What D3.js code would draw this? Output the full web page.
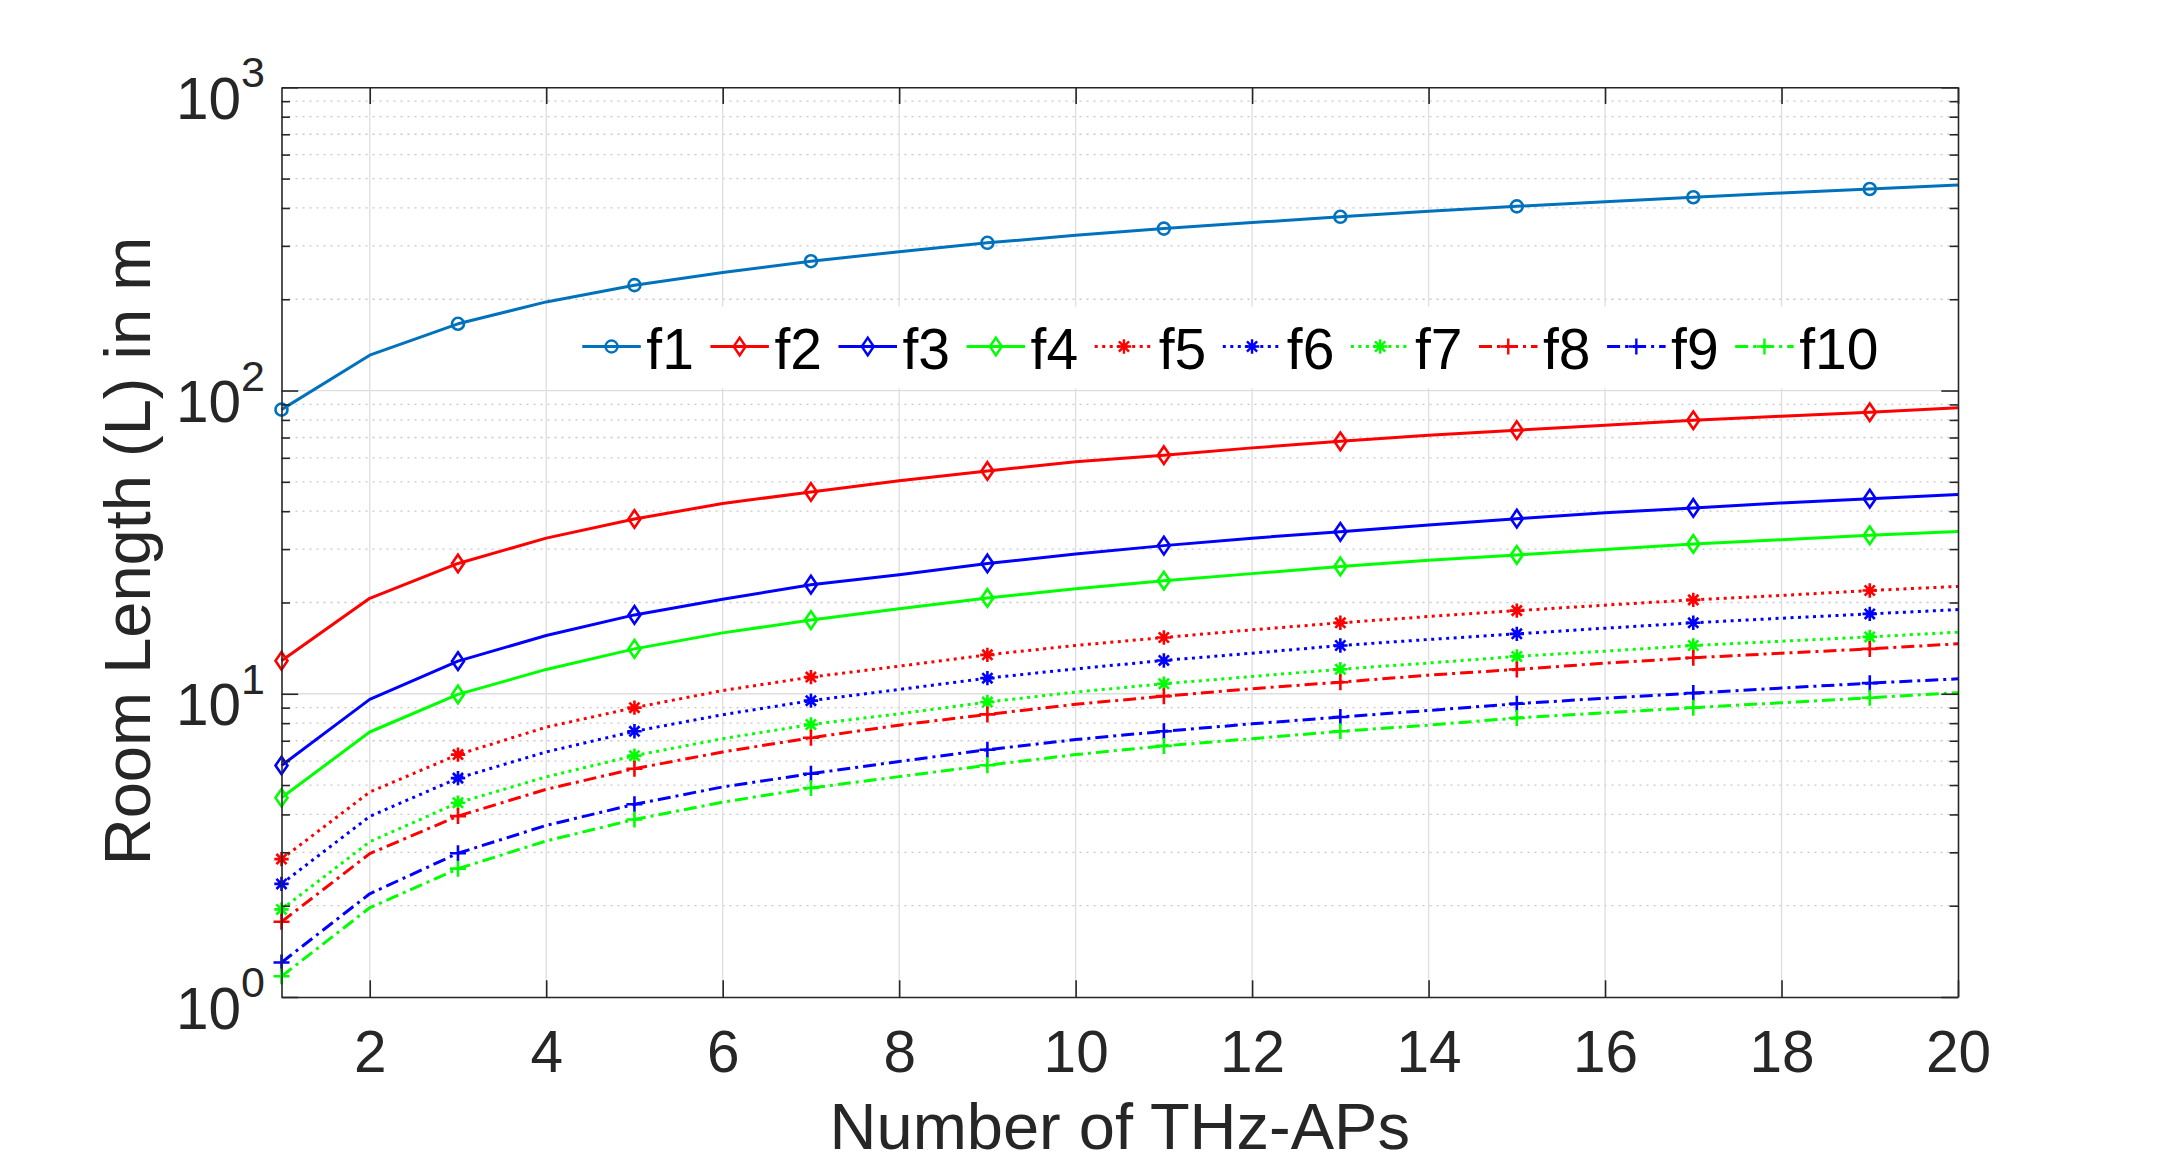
<!DOCTYPE html>
<html><head><meta charset="utf-8">
<script src="https://cdn.jsdelivr.net/npm/d3@7/dist/d3.min.js"></script>
<style>
body{margin:0;background:#fff}
svg text{font-family:"Liberation Sans",Arial,Helvetica,sans-serif}
</style>
</head><body>
<svg id="chart" width="2162" height="1164"></svg>
<script>
// ---------- data ----------
const xValues = [1,2,3,4,5,6,7,8,9,10,11,12,13,14,15,16,17,18,19,20];
const f1  = [86.5,130.8,166,196,222.6,245,267,287,307,325,342,358,374,390,405,419,434,448,462,476];
const f2  = [12.84,20.65,26.9,32.6,37.7,42.4,46.3,50.4,54.3,58.2,61.2,64.7,68.0,71.2,74.0,76.8,79.8,82.3,84.8,87.7];
const f3  = [5.80,9.58,12.81,15.56,18.2,20.5,22.9,24.7,26.9,28.9,30.8,32.6,34.2,36.0,37.8,39.5,41.0,42.6,44.0,45.4];
const f4  = [4.54,7.48,9.95,12.03,14.06,15.88,17.5,19.06,20.7,22.2,23.6,24.9,26.3,27.55,28.7,29.9,31.2,32.2,33.3,34.3];
const f5  = [2.85,4.74,6.30,7.76,9.0,10.25,11.35,12.33,13.44,14.43,15.33,16.25,17.14,17.98,18.8,19.6,20.4,21.1,21.9,22.6];
const f6  = [2.36,3.94,5.27,6.43,7.52,8.53,9.49,10.33,11.26,12.08,12.88,13.61,14.43,15.1,15.76,16.45,17.14,17.75,18.34,18.95];
const f7  = [1.945,3.25,4.37,5.32,6.25,7.11,7.92,8.59,9.39,10.13,10.79,11.40,12.05,12.63,13.28,13.82,14.43,14.9,15.4,15.96];
const f8  = [1.77,2.97,3.95,4.84,5.66,6.43,7.16,7.88,8.55,9.23,9.82,10.39,10.92,11.52,12.03,12.62,13.14,13.61,14.06,14.61];
const f9  = [1.30,2.19,2.98,3.68,4.32,4.93,5.45,5.98,6.54,7.06,7.52,7.96,8.38,8.81,9.27,9.67,10.05,10.44,10.84,11.2];
const f10 = [1.17,1.97,2.65,3.27,3.85,4.39,4.89,5.33,5.81,6.30,6.73,7.11,7.52,7.88,8.32,8.66,9.0,9.34,9.70,10.08];
const seriesNames = ["f1","f2","f3","f4","f5","f6","f7","f8","f9","f10"];
const seriesValues = [f1,f2,f3,f4,f5,f6,f7,f8,f9,f10];
const xTickValues = [2,4,6,8,10,12,14,16,18,20];
const yTickValues = [1,10,100,1000];
const yTickExponents = ["0","1","2","3"];
const xLabel = "Number of THz-APs";
const yLabel = "Room Length (L) in m";

// ---------- styles ----------
const seriesColors = ["#0072BD","#FF0000","#0000FF","#00FF00","#FF0000","#0000FF","#00FF00","#FF0000","#0000FF","#00FF00"];
const seriesDash = ["none","none","none","none","3,4.5","3,4.5","3,4.5","13,5,3,5","13,5,3,5","13,5,3,5"];
const seriesMarker = ["circle","diamond","diamond","diamond","star","star","star","plus","plus","plus"];

const M = {left:281.5, right:1958, top:87.3, bottom:997};
const axisColor = "#262626";
const svg = d3.select("#chart");
svg.append("rect").attr("width",2162).attr("height",1164).attr("fill","#fff");

const x = d3.scaleLinear().domain([1,20]).range([M.left, M.right]);
const y = d3.scaleLog().domain([1,1000]).range([M.bottom, M.top]);
const isPow10 = v => Math.abs(Math.log10(v) - Math.round(Math.log10(v))) < 1e-9;
const minorY = y.ticks().filter(v => !isPow10(v));

// ---------- grid ----------
const grid = svg.append("g");
grid.selectAll("line.minor").data(minorY).join("line")
  .attr("x1",M.left).attr("x2",M.right).attr("y1",d=>y(d)).attr("y2",d=>y(d))
  .attr("stroke","#c8c8c8").attr("stroke-width",1.3).attr("stroke-dasharray","2,5");
grid.selectAll("line.majy").data(yTickValues.slice(1,3)).join("line")
  .attr("x1",M.left).attr("x2",M.right).attr("y1",d=>y(d)).attr("y2",d=>y(d))
  .attr("stroke","#dedede").attr("stroke-width",1.3);
grid.selectAll("line.majx").data(xTickValues.slice(0,-1)).join("line")
  .attr("x1",d=>x(d)).attr("x2",d=>x(d)).attr("y1",M.top).attr("y2",M.bottom)
  .attr("stroke","#dedede").attr("stroke-width",1.3);

// ---------- markers ----------
function markerPath(type){
  if(type==="circle"){ const r=6; return `M${-r},0A${r},${r} 0 1,0 ${r},0A${r},${r} 0 1,0 ${-r},0Z`; }
  if(type==="diamond"){ const w=6,h=8.8; return `M0,${-h}L${w},0L0,${h}L${-w},0Z`; }
  if(type==="plus"){ const r=8; return `M${-r},0H${r}M0,${-r}V${r}`; }
  if(type==="star"){ const r=7.2, a=r*0.7071; return `M${-r},0H${r}M0,${-r}V${r}M${-a},${-a}L${a},${a}M${-a},${a}L${a},${-a}`; }
}

// ---------- series ----------
const line = d3.line().x(d=>x(d[0])).y(d=>y(d[1]));
const plot = svg.append("g");
seriesValues.forEach((vals,i)=>{
  const pts = xValues.map((xv,j)=>[xv, vals[j]]);
  plot.append("path").datum(pts).attr("d",line)
    .attr("fill","none").attr("stroke",seriesColors[i]).attr("stroke-width",3)
    .attr("stroke-dasharray",seriesDash[i]).attr("stroke-linejoin","round");
  plot.selectAll(null).data(pts.filter((p,j)=>j%2===0)).join("path")
    .attr("transform",d=>`translate(${x(d[0])},${y(d[1])})`)
    .attr("d",markerPath(seriesMarker[i]))
    .attr("fill","none").attr("stroke",seriesColors[i]).attr("stroke-width",2.6);
});

// ---------- axes ----------
function styleAxis(g){
  g.selectAll("path.domain").attr("stroke",axisColor).attr("stroke-width",1.6);
  g.selectAll(".tick line").attr("stroke",axisColor).attr("stroke-width",1.6);
}
const tickLen = 16.7, minorLen = 8.4;
const gB = svg.append("g").attr("transform",`translate(0,${M.bottom})`)
  .call(d3.axisBottom(x).tickValues(xTickValues).tickSize(-tickLen).tickSizeOuter(0).tickPadding(33).tickFormat(d=>d));
gB.call(styleAxis);
gB.selectAll(".tick text").attr("font-size",58.5).attr("fill",axisColor).attr("font-family","Liberation Sans, Arial, sans-serif");
const gT = svg.append("g").attr("transform",`translate(0,${M.top})`)
  .call(d3.axisTop(x).tickValues(xTickValues).tickSize(-tickLen).tickSizeOuter(0).tickFormat(""));
gT.call(styleAxis);
const gL = svg.append("g").attr("transform",`translate(${M.left},0)`)
  .call(d3.axisLeft(y).tickValues(yTickValues).tickSize(-tickLen).tickSizeOuter(0).tickFormat(""));
gL.call(styleAxis);
const gLm = svg.append("g").attr("transform",`translate(${M.left},0)`)
  .call(d3.axisLeft(y).tickValues(minorY).tickSize(-minorLen).tickSizeOuter(0).tickFormat(""));
gLm.call(styleAxis); gLm.select("path.domain").remove();
const gR = svg.append("g").attr("transform",`translate(${M.right},0)`)
  .call(d3.axisRight(y).tickValues(yTickValues).tickSize(-tickLen).tickSizeOuter(0).tickFormat(""));
gR.call(styleAxis);
const gRm = svg.append("g").attr("transform",`translate(${M.right},0)`)
  .call(d3.axisRight(y).tickValues(minorY).tickSize(-minorLen).tickSizeOuter(0).tickFormat(""));
gRm.call(styleAxis); gRm.select("path.domain").remove();

// y tick labels 10^n
const yl = svg.append("g");
yTickValues.forEach((v,i)=>{
  const t = yl.append("text").attr("x",265).attr("y",y(v)+31.5)
    .attr("text-anchor","end").attr("fill",axisColor);
  t.append("tspan").attr("font-size",58.5).text("10");
  t.append("tspan").attr("font-size",43).attr("dy",-31.5).text(yTickExponents[i]);
});

// axis titles
svg.append("text").attr("x",(M.left+M.right)/2).attr("y",1149)
  .attr("text-anchor","middle").attr("font-size",65).attr("fill",axisColor).text(xLabel);
svg.append("text").attr("transform",`translate(150,551) rotate(-90)`)
  .attr("text-anchor","middle").attr("font-size",65).attr("fill",axisColor).text(yLabel);

// ---------- legend ----------
const lg = svg.append("g");
lg.append("rect").attr("x",570).attr("y",306.7).attr("width",1325).attr("height",81.6).attr("fill","#fff");
seriesNames.forEach((name,i)=>{
  const lx = 582.3 + 128.1*i, ly = 346.5;
  lg.append("line").attr("x1",lx).attr("x2",lx+58.5).attr("y1",ly).attr("y2",ly)
    .attr("stroke",seriesColors[i]).attr("stroke-width",3).attr("stroke-dasharray",seriesDash[i]);
  lg.append("path").attr("transform",`translate(${lx+29.25},${ly})`).attr("d",markerPath(seriesMarker[i]))
    .attr("fill","none").attr("stroke",seriesColors[i]).attr("stroke-width",2.4);
  lg.append("text").attr("x",lx+64).attr("y",369).attr("font-size",57).attr("fill","#000").text(name);
});
</script>
</body></html>
